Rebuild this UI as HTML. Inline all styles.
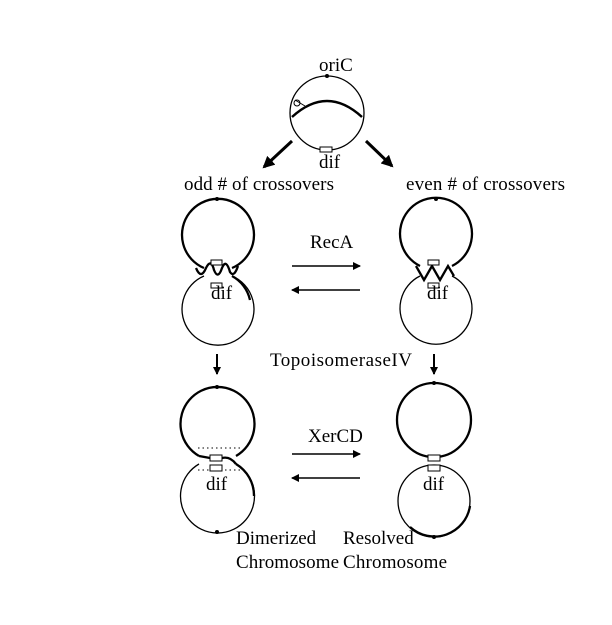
<!DOCTYPE html>
<html><head><style>
html,body{margin:0;padding:0;background:#fff;}
svg{display:block;}
text{font-family:"Liberation Serif",serif;font-size:19px;fill:#000;}
</style></head><body>
<svg width="612" height="625" viewBox="0 0 612 625" xmlns="http://www.w3.org/2000/svg">
<defs>
<marker id="ah" markerWidth="8" markerHeight="8" refX="7" refY="4" orient="auto" markerUnits="userSpaceOnUse" viewBox="0 0 8 8"><path d="M0,0 L8,4 L0,8 z" fill="#000"/></marker>
<marker id="ab" markerWidth="12" markerHeight="12" refX="10" refY="6" orient="auto" markerUnits="userSpaceOnUse" viewBox="0 0 12 12"><path d="M0,0 L12,6 L0,12 z" fill="#000"/></marker>
</defs>
<g fill="none" stroke="#000">
<circle cx="327" cy="113" r="37" stroke-width="1.3"/>
<path d="M292,117 Q327,85 362,117" stroke-width="2.5"/>
<path d="M295,100 L305,106" stroke-width="1"/>
<circle cx="297" cy="103" r="3" stroke-width="1"/>
<rect x="320" y="147" width="12" height="5" fill="#fff" stroke-width="1"/>
<line x1="292" y1="141" x2="264" y2="167" stroke-width="3" marker-end="url(#ab)"/>
<line x1="366" y1="141" x2="392" y2="166" stroke-width="3" marker-end="url(#ab)"/>

<path d="M204,268 A36,36 0 1 1 232,268" stroke-width="2.3"/>
<path d="M204,276 A36,36 0 1 0 232,276" stroke-width="1.3"/>
<path d="M232,276 A36,36 0 0 1 250,300" stroke-width="2.3"/>
<path d="M196,268 Q201,280 206,268 Q211,258 214,270 Q218,280 222,268 Q226,258 230,272 Q234,278 238,266" stroke-width="2.3"/>
<rect x="211" y="260" width="11" height="5" fill="#fff" stroke-width="1"/>
<rect x="211" y="283" width="11" height="5" fill="#fff" stroke-width="1"/>

<path d="M420,266 A36,36 0 1 1 452,266" stroke-width="2.3"/>
<path d="M420,276 A36,36 0 1 0 452,276" stroke-width="1.3"/>
<path d="M416,266 L424,280 L432,266 L440,280 L448,266 L454,276" stroke-width="2.3"/>
<rect x="428" y="260" width="11" height="5" fill="#fff" stroke-width="1"/>
<rect x="428" y="283" width="11" height="5" fill="#fff" stroke-width="1"/>

<line x1="292" y1="266" x2="360" y2="266" stroke-width="1.5" marker-end="url(#ah)"/>
<line x1="360" y1="290" x2="292" y2="290" stroke-width="1.5" marker-end="url(#ah)"/>
<line x1="217" y1="354" x2="217" y2="374" stroke-width="2" marker-end="url(#ah)"/>
<line x1="434" y1="354" x2="434" y2="374" stroke-width="2" marker-end="url(#ah)"/>

<path d="M199,456 A37,37 0 1 1 236,456" stroke-width="2.3"/>
<path d="M199,464 A37,37 0 1 0 236,464" stroke-width="1.3"/>
<path d="M236,464 A37,37 0 0 1 254,496" stroke-width="2.3"/>
<path d="M199,456 L210,458 M222,458 Q230,456 236,464" stroke-width="2.3"/>
<path d="M198,448 H240 M198,470 H240" stroke-width="1" stroke-dasharray="1.5,3"/>
<rect x="210" y="455" width="12" height="6" fill="#fff" stroke-width="1"/>
<rect x="210" y="465" width="12" height="6" fill="#fff" stroke-width="1"/>

<circle cx="434" cy="420" r="37" stroke-width="2.3"/>
<circle cx="434" cy="501" r="36" stroke-width="1.3"/>
<path d="M410,527 A36,36 0 0 0 470,506" stroke-width="2.3"/>
<rect x="428" y="455" width="12" height="6" fill="#fff" stroke-width="1"/>
<rect x="428" y="465" width="12" height="6" fill="#fff" stroke-width="1"/>
<line x1="292" y1="454" x2="360" y2="454" stroke-width="1.5" marker-end="url(#ah)"/>
<line x1="360" y1="478" x2="292" y2="478" stroke-width="1.5" marker-end="url(#ah)"/>
</g>
<g fill="#000">
<circle cx="327" cy="76" r="2"/>
<circle cx="217" cy="199" r="2"/>
<circle cx="436" cy="199" r="2"/>
<circle cx="217" cy="387" r="2"/>
<circle cx="434" cy="383" r="2"/>
<circle cx="217" cy="532" r="2"/>
<circle cx="434" cy="537" r="2"/>
</g>
<text x="319" y="71">oriC</text>
<text x="319" y="168">dif</text>
<text x="184" y="190" textLength="150">odd # of crossovers</text>
<text x="406" y="190" textLength="159">even # of crossovers</text>
<text x="310" y="248">RecA</text>
<text x="211" y="299">dif</text>
<text x="427" y="299">dif</text>
<text x="270" y="366" textLength="142">TopoisomeraseIV</text>
<text x="308" y="442">XerCD</text>
<text x="206" y="490">dif</text>
<text x="423" y="490">dif</text>
<text x="236" y="544">Dimerized</text>
<text x="343" y="544">Resolved</text>
<text x="236" y="568" textLength="103">Chromosome</text>
<text x="343" y="568" textLength="104">Chromosome</text>
</svg>
</body></html>
